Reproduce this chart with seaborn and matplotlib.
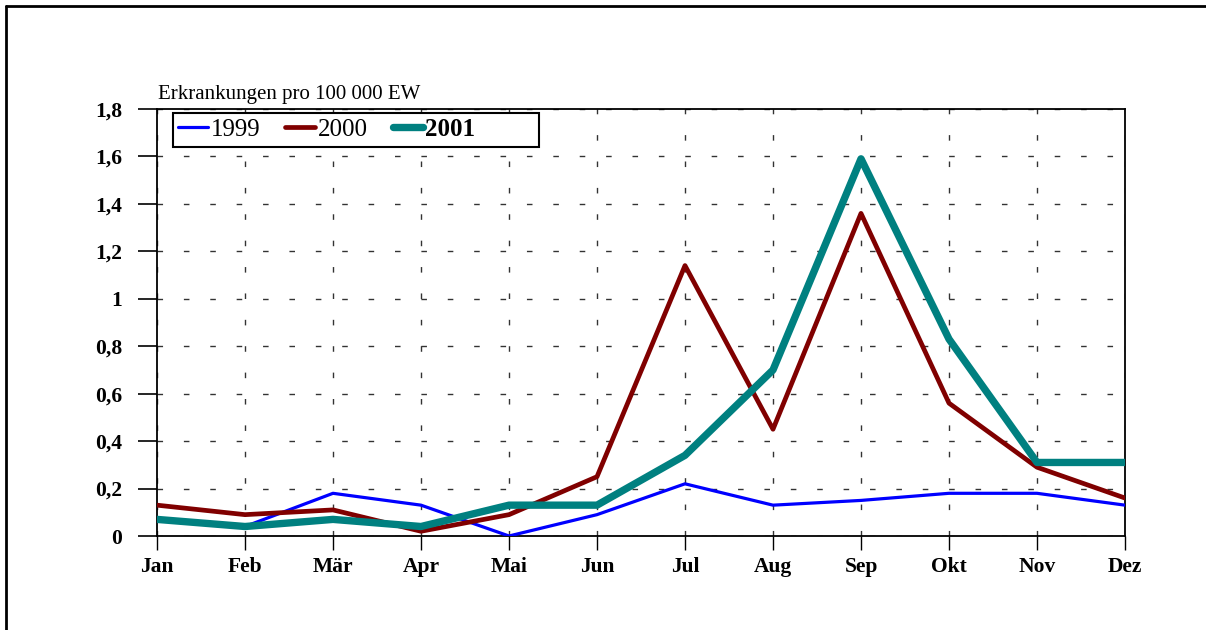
import matplotlib
matplotlib.use("Agg")
import matplotlib.pyplot as plt
import seaborn as sns
import pandas as pd
from matplotlib.lines import Line2D
from matplotlib.patches import Rectangle

months = ["Jan", "Feb", "Mär", "Apr", "Mai", "Jun", "Jul", "Aug", "Sep", "Okt", "Nov", "Dez"]
v1999 = [0.07, 0.04, 0.18, 0.13, 0.00, 0.09, 0.22, 0.13, 0.15, 0.18, 0.18, 0.13]
v2000 = [0.13, 0.09, 0.11, 0.02, 0.09, 0.25, 1.14, 0.45, 1.36, 0.56, 0.29, 0.16]
v2001 = [0.07, 0.04, 0.07, 0.04, 0.13, 0.13, 0.34, 0.70, 1.59, 0.83, 0.31, 0.31]
yticks = [0, 0.2, 0.4, 0.6, 0.8, 1.0, 1.2, 1.4, 1.6, 1.8]
ytick_labels = ["0", "0,2", "0,4", "0,6", "0,8", "1", "1,2", "1,4", "1,6", "1,8"]
ylabel = "Erkrankungen pro 100 000 EW"

sns.set_style("white")
plt.rcParams["font.family"] = ["Liberation Serif", "DejaVu Serif"]
plt.rcParams["text.color"] = "black"
plt.rcParams["xtick.color"] = "black"
plt.rcParams["ytick.color"] = "black"
plt.rcParams["axes.labelcolor"] = "black"

W, H = 1206, 630
fig = plt.figure(figsize=(W / 100, H / 100), dpi=100)
L, R, T, B = 157, 1125, 109, 536
ax = fig.add_axes([L / W, 1 - B / H, (R - L) / W, (B - T) / H])

x = list(range(len(months)))
series = [
    ("1999", v1999, "#0000FF", 2.3),
    ("2000", v2000, "#800000", 3.4),
    ("2001", v2001, "#008080", 5.3),
]
for name, vals, col, lw in series:
    df = pd.DataFrame({"x": x, "y": vals})
    sns.lineplot(data=df, x="x", y="y", ax=ax, color=col, linewidth=lw,
                 label=name, sort=False, solid_capstyle="round", zorder=3)

ax.set_xlim(0, 11)
ax.set_ylim(0, 1.8)
ax.set_xticks(x)
ax.set_xticklabels(months, fontsize=15.5, fontweight="bold", color="black")
ax.set_yticks(yticks)
ax.set_yticklabels(ytick_labels, fontsize=15.5, fontweight="bold", color="black")
ax.set_xlabel("")
ax.set_ylabel("")

ax.grid(True, color="#333333", linewidth=1.0, linestyle=(0, (4, 15)))
for s in ax.spines.values():
    s.set_visible(True)
    s.set_color("black")
    s.set_linewidth(1.3)
ax.tick_params(axis="y", direction="out", length=14, width=1.2, color="black", pad=11, left=True)
ax.tick_params(axis="x", direction="out", length=10, width=1.0, color="black", pad=5, bottom=True)

ax.text(0.001, 1 + 10 / (B - T), ylabel, transform=ax.transAxes, ha="left", va="baseline",
        fontsize=15, color="black")

leg = ax.legend(loc="upper left", bbox_to_anchor=(16 / (R - L), 1 - 4 / (B - T)),
                borderaxespad=0, ncol=3, fontsize=18, frameon=False,
                handlelength=1.2, handletextpad=0.1, columnspacing=1.0,
                borderpad=0.2)
leg.set_zorder(6)
for t in leg.get_texts():
    t.set_color("black")
    if t.get_text() == "2001":
        t.set_fontweight("bold")
ax.add_patch(Rectangle(((173 - L) / (R - L), 1 - (147 - T) / (B - T)),
                       (539 - 173) / (R - L), (147 - 113) / (B - T),
                       transform=ax.transAxes, facecolor="white", edgecolor="black",
                       linewidth=1.5, zorder=5))

fig.add_artist(Line2D([6 / W, 1], [1 - 6 / H, 1 - 6 / H], transform=fig.transFigure,
                      color="black", linewidth=2))
fig.add_artist(Line2D([6 / W, 6 / W], [0, 1 - 6 / H], transform=fig.transFigure,
                      color="black", linewidth=2))

fig.savefig("out.png", dpi=100)
